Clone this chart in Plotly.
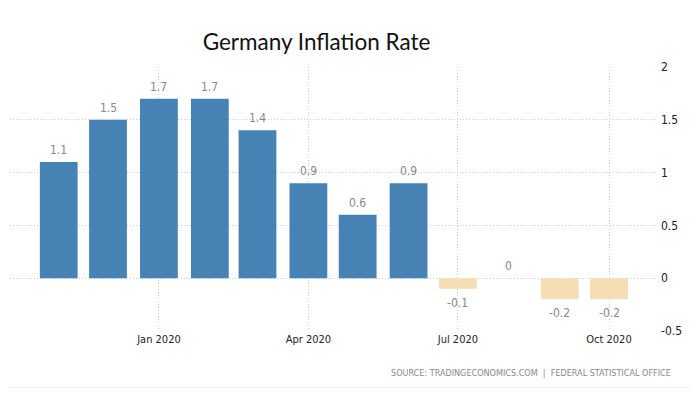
import plotly.graph_objects as go

months = ["2019-11-01", "2019-12-01", "2020-01-01", "2020-02-01", "2020-03-01", "2020-04-01",
          "2020-05-01", "2020-06-01", "2020-07-01", "2020-08-01", "2020-09-01", "2020-10-01"]
values = [1.1, 1.5, 1.7, 1.7, 1.4, 0.9, 0.6, 0.9, -0.1, 0, -0.2, -0.2]
labels = ["1.1", "1.5", "1.7", "1.7", "1.4", "0.9", "0.6", "0.9", "-0.1", "0", "-0.2", "-0.2"]
tick_dates = ["2020-01-01", "2020-04-01", "2020-07-01", "2020-10-01"]
tick_labels = ["Jan 2020", "Apr 2020", "Jul 2020", "Oct 2020"]
y_ticks = [-0.5, 0, 0.5, 1, 1.5, 2]
y_tick_labels = ["-0.5", "0", "0.5", "1", "1.5", "2"]

POS = "#4682B4"
NEG = "#F5DEB3"
colors = [POS if v > 0 else NEG for v in values]

# page body has an 8px default margin; layout coordinates below compensate for it
L, R_EDGE, T, B_EDGE = 2, 650, 59, 323.3
PW, PH = R_EDGE - L, B_EDGE - T

fig = go.Figure()
fig.add_trace(go.Bar(x=months, y=values, marker=dict(color=colors, line=dict(width=0)),
                     width=23 * 86400000, hoverinfo="skip"))

label_annotations = [
    dict(x=m, y=v, xref="x", yref="y", text=t, showarrow=False,
         yanchor="middle", yshift=(-14 if v < 0 else 12),
         font=dict(color="#888888", size=12, family="DejaVu Sans Condensed"))
    for m, v, t in zip(months, values, labels)
]

fig.update_layout(
    width=698, height=394,
    margin=dict(l=L, r=698 - R_EDGE, t=T, b=394 - B_EDGE, autoexpand=False),
    paper_bgcolor="white", plot_bgcolor="white",
    showlegend=False,
    title=dict(text="Germany Inflation Rate", x=0.442, xanchor="center", y=0.914, yanchor="middle",
               font=dict(family="Lato", size=22.5, color="#111111")),
    xaxis=dict(type="date", range=["2019-10-02 08:00", "2020-10-30 20:00"],
               tickvals=tick_dates, ticktext=tick_labels,
               showgrid=True, gridcolor="#cccccc", griddash="1px,2px", gridwidth=1,
               ticks="", zeroline=False, showline=False, automargin=False,
               tickfont=dict(family="DejaVu Sans Condensed", size=11, color="#222222")),
    yaxis=dict(side="right", range=[-0.5, 2], tickvals=y_ticks, ticktext=y_tick_labels,
               showgrid=True, gridcolor="#cccccc", griddash="1px,2px", gridwidth=1,
               zeroline=False, showline=False, ticks="", ticklabelstandoff=2, automargin=False,
               tickfont=dict(family="DejaVu Sans Condensed", size=12, color="#222222")),
    annotations=label_annotations + [
        dict(text="SOURCE: TRADINGECONOMICS.COM  |  FEDERAL STATISTICAL OFFICE",
             xref="paper", yref="paper", x=(665 - L) / PW, y=-(365 - B_EDGE) / PH,
             xanchor="right", yanchor="middle", showarrow=False,
             font=dict(family="DejaVu Sans Condensed", size=9, color="#888888"))],
    shapes=[dict(type="line", xref="paper", yref="paper", x0=(-3 - L) / PW, x1=(682 - L) / PW,
                 y0=-(380 - B_EDGE) / PH, y1=-(380 - B_EDGE) / PH,
                 line=dict(color="#eeeeee", width=1))],
)

fig.write_html("out.html")
